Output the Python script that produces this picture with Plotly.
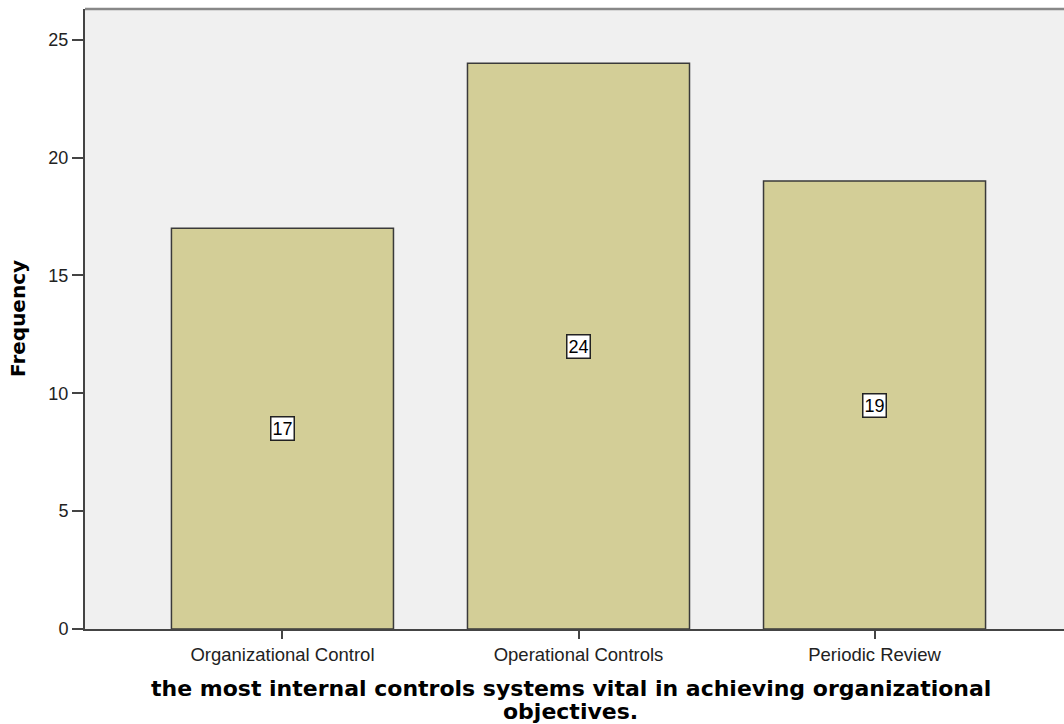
import plotly.graph_objects as go

categories = ["Organizational Control", "Operational Controls", "Periodic Review"]
values = [17, 24, 19]
y_ticks = [0, 5, 10, 15, 20, 25]
x_title_lines = ["the most internal controls systems vital in achieving organizational", "objectives."]

fig = go.Figure()
fig.add_trace(go.Bar(
    x=list(range(len(categories))), y=values, width=0.75,
    marker=dict(color="#d3ce97", line=dict(color="#3a3a3a", width=1.5)),
    hoverinfo="skip",
))

for i, v in enumerate(values):
    fig.add_annotation(x=i, y=v / 2, text=str(v), showarrow=False,
                       font=dict(family="Arial, Liberation Sans", size=18, color="black"),
                       bgcolor="white", bordercolor="#222", borderwidth=1.5, borderpad=1)

fig.add_shape(type="line", xref="paper", yref="paper", x0=0, x1=1, y0=1, y1=1,
              line=dict(color="#888888", width=2.5))

# axis titles as annotations for precise placement
for k, (line, shift) in enumerate(zip(x_title_lines, [-59, -82])):
    fig.add_annotation(xref="paper", yref="paper", x=0.496, y=0, yshift=shift,
                       xanchor="center", yanchor="middle", showarrow=False, borderpad=0,
                       text="<b>" + line + "</b>",
                       font=dict(family="DejaVu Sans", size=22, color="black"))
fig.add_annotation(xref="paper", yref="paper", x=0, y=0.5, xshift=-67,
                   xanchor="center", yanchor="middle", showarrow=False, textangle=-90,
                   text="<b>Frequency</b>",
                   font=dict(family="DejaVu Sans", size=20, color="black"))

fig.update_layout(
    width=1064, height=724,
    margin=dict(l=85, r=0, t=9, b=95),
    paper_bgcolor="white", plot_bgcolor="#f0f0f0",
    showlegend=False,
    font=dict(family="Arial, Liberation Sans", color="#222"),
    xaxis=dict(
        range=[-0.667, 2.64], tickvals=list(range(len(categories))), ticktext=categories,
        showgrid=False, zeroline=False, showline=True, linecolor="#444", linewidth=2,
        ticks="outside", ticklen=8, tickcolor="#444", tickwidth=1.5,
        tickfont=dict(size=18.5, color="#222"),
    ),
    yaxis=dict(
        range=[0, 26.3], tickvals=y_ticks,
        showgrid=False, zeroline=False, showline=True, linecolor="#444", linewidth=2,
        ticks="outside", ticklen=11, tickcolor="#444", tickwidth=1.5,
        tickfont=dict(size=18, color="#222"),
    ),
)

fig.write_html("out.html")
